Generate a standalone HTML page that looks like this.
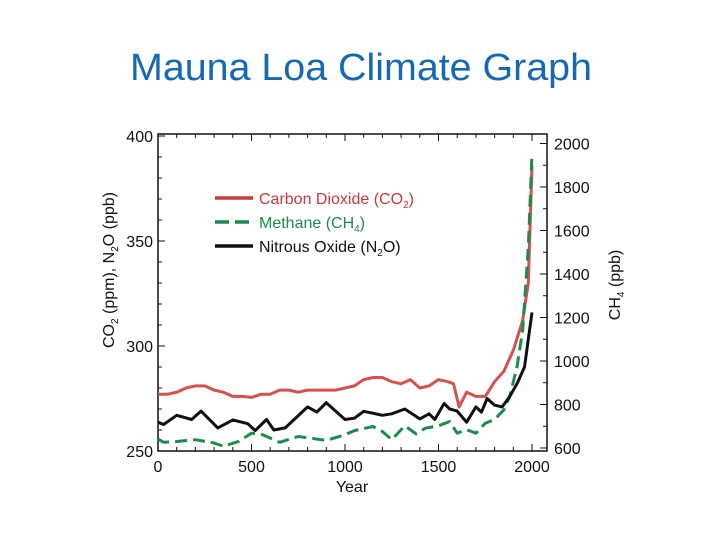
<!DOCTYPE html>
<html><head><meta charset="utf-8"><style>
body{margin:0;background:#fff}
svg{display:block;font-family:"Liberation Sans",Arial,sans-serif}
</style></head><body>
<svg id="chart" width="720" height="540" viewBox="0 0 720 540">
<text x="361" y="80" text-anchor="middle" font-size="38" fill="#1569b3" textLength="462" lengthAdjust="spacingAndGlyphs">Mauna Loa Climate Graph</text>
<g id="axes"></g>
<g id="series"></g>
<g>
 <line x1="215" y1="198" x2="253" y2="198" stroke="#c8393e" stroke-width="3.5"/>
 <text x="259" y="204" font-size="16" fill="#c8393e">Carbon Dioxide (CO<tspan font-size="10" dy="4">2</tspan><tspan dy="-4">)</tspan></text>
 <line x1="215" y1="222" x2="253" y2="222" stroke="#1d8a4e" stroke-width="3.5" stroke-dasharray="14,6"/>
 <text x="259" y="228" font-size="16" fill="#1d8a4e">Methane (CH<tspan font-size="10" dy="4">4</tspan><tspan dy="-4">)</tspan></text>
 <line x1="215" y1="246" x2="253" y2="246" stroke="#111" stroke-width="3.5"/>
 <text x="259" y="252" font-size="16" fill="#111">Nitrous Oxide (N<tspan font-size="10" dy="4">2</tspan><tspan dy="-4">O)</tspan></text>
</g>
<text transform="translate(114,270) rotate(-90)" text-anchor="middle" font-size="16" fill="#111">CO<tspan font-size="10" dy="4">2</tspan><tspan dy="-4"> (ppm), N</tspan><tspan font-size="10" dy="4">2</tspan><tspan dy="-4">O (ppb)</tspan></text>
<text transform="translate(620,285) rotate(-90)" text-anchor="middle" font-size="16" fill="#111">CH<tspan font-size="10" dy="4">4</tspan><tspan dy="-4"> (ppb)</tspan></text>
<text x="352" y="492" text-anchor="middle" font-size="16" fill="#111">Year</text>
</svg>
<script>
const co2Years=[0,50,100,150,200,250,300,350,400,450,500,550,600,650,700,750,800,850,900,950,1000,1050,1100,1150,1200,1250,1300,1350,1400,1450,1500,1550,1580,1610,1650,1700,1750,1800,1850,1900,1950,1980,2000];
const co2Values=[277,277,278,280,281,281,279,278,276,276,275.5,277,277,279,279,278,279,279,279,279,280,281,284,285,285,283,282,284,280,281,284,283,282,271,278,276,276,283,288,298,312,330,386];
const n2oYears=[0,30,100,180,230,320,400,480,520,580,620,680,800,850,900,1000,1050,1100,1200,1250,1320,1400,1450,1480,1530,1560,1600,1650,1700,1730,1760,1800,1840,1880,1920,1960,2000];
const n2oValues=[263.7,262.6,267,265,269,261,264.8,263,259.7,265,260,261,271,268.5,273,265,265.6,268.9,267,267.7,270,265.3,267.7,265,272.6,270,269,263.7,271,268.5,275,271.8,271,275.8,282,290,316];
const ch4Years=[0,30,100,200,300,350,430,500,560,650,750,900,1000,1050,1150,1200,1250,1320,1380,1430,1500,1560,1600,1650,1700,1750,1800,1850,1880,1920,1950,1980,2000];
const ch4Values=[641,626,630,638,623,608,630,668,661,626,653,635,661,680,699,676,638,702,665,691,702,722,668,684,668,714,732,775,836,973,1140,1520,1953];
const xTicks=[0,500,1000,1500,2000];
const leftTicks=[250,300,350,400];
const rightTicks=[600,800,1000,1200,1400,1600,1800,2000];

const L=158,R=547,T=134,B=451;
const xs=v=>158+v*(532-158)/2000;
const yl=v=>451-(v-250)*(451-136)/150;
const yr=v=>448-(v-600)*87/400;
const NS="http://www.w3.org/2000/svg";
function mk(tag,attrs,parent){const e=document.createElementNS(NS,tag);for(const k in attrs)e.setAttribute(k,attrs[k]);parent.appendChild(e);return e;}
const ax=document.getElementById('axes');
const frame=mk('rect',{x:L,y:T,width:R-L,height:B-T,fill:'none',stroke:'#111','stroke-width':1.5},ax);


for(let v=0;v<=2050;v+=100){const big=v%500===0;const x=xs(v);
 mk('line',{x1:x,y1:B,x2:x,y2:B-(big?7:4),stroke:'#111'},ax);
 mk('line',{x1:x,y1:T,x2:x,y2:T+(big?7:4),stroke:'#111'},ax);}
for(let v=250;v<=400;v+=10){const y=yl(v);mk('line',{x1:L,y1:y,x2:L+(v%50===0?7:4),y2:y,stroke:'#111'},ax);}
for(let v=600;v<=2000;v+=100){const y=yr(v);mk('line',{x1:R,y1:y,x2:R-(v%200===0?7:4),y2:y,stroke:'#111'},ax);}
xTicks.forEach(v=>{const t=mk('text',{x:xs(v),y:472,'text-anchor':'middle','font-size':16,fill:'#111'},ax);t.textContent=v;
 
 });
leftTicks.forEach(v=>{const t=mk('text',{x:153,y:yl(v)+6,'text-anchor':'end','font-size':16,fill:'#111'},ax);t.textContent=v;
 
 });
rightTicks.forEach(v=>{const t=mk('text',{x:554,y:yr(v)+6,'font-size':16,fill:'#111'},ax);t.textContent=v;
 
 });
const sg=document.getElementById('series');
function pts(xsArr,vs,f){return xsArr.map((y,i)=>xs(y).toFixed(1)+','+f(vs[i]).toFixed(1)).join(' ');}
const c=mk('polyline',{points:pts(co2Years,co2Values,yl),fill:'none',stroke:'#d4514f','stroke-width':3,'stroke-linejoin':'round'},sg);


const m=mk('polyline',{points:pts(ch4Years,ch4Values,yr),fill:'none',stroke:'#1d8a4e','stroke-width':3,'stroke-dasharray':'12,6','stroke-linejoin':'round'},sg);


const n=mk('polyline',{points:pts(n2oYears,n2oValues,yl),fill:'none',stroke:'#111','stroke-width':3,'stroke-linejoin':'round'},sg);


</script>
</body></html>
